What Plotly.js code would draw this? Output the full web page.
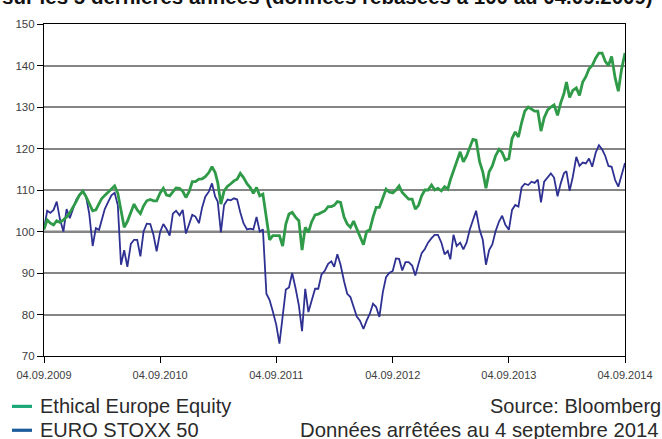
<!DOCTYPE html>
<html>
<head>
<meta charset="utf-8">
<script src="https://cdn.plot.ly/plotly-3.0.1.min.js"></script>
<style>
html,body{margin:0;padding:0;background:#fff;overflow:hidden;}
#chart{width:662px;height:439px;}
</style>
</head>
<body>
<div id="chart"></div>
<script>
// ---- Data (rebased to 100 on 04.09.2009) ----
const dates = [
"2009-09-04","2009-09-14","2009-09-24","2009-10-04","2009-10-14","2009-10-24","2009-11-04","2009-11-14","2009-11-24","2009-12-04","2009-12-14","2009-12-24",
"2010-01-04","2010-01-14","2010-01-24","2010-02-04","2010-02-14","2010-02-24","2010-03-04","2010-03-14","2010-03-24","2010-04-04","2010-04-14","2010-04-24",
"2010-05-04","2010-05-14","2010-05-24","2010-06-04","2010-06-14","2010-06-24","2010-07-04","2010-07-14","2010-07-24","2010-08-04","2010-08-14","2010-08-24",
"2010-09-04","2010-09-14","2010-09-24","2010-10-04","2010-10-14","2010-10-24","2010-11-04","2010-11-14","2010-11-24","2010-12-04","2010-12-14","2010-12-24",
"2011-01-04","2011-01-14","2011-01-24","2011-02-04","2011-02-14","2011-02-24","2011-03-04","2011-03-14","2011-03-24","2011-04-04","2011-04-14","2011-04-24",
"2011-05-04","2011-05-14","2011-05-24","2011-06-04","2011-06-14","2011-06-24","2011-07-04","2011-07-14","2011-07-24","2011-08-04","2011-08-14","2011-08-24",
"2011-09-04","2011-09-14","2011-09-24","2011-10-04","2011-10-14","2011-10-24","2011-11-04","2011-11-14","2011-11-24","2011-12-04","2011-12-14","2011-12-24",
"2012-01-04","2012-01-14","2012-01-24","2012-02-04","2012-02-14","2012-02-24","2012-03-04","2012-03-14","2012-03-24","2012-04-04","2012-04-14","2012-04-24",
"2012-05-04","2012-05-14","2012-05-24","2012-06-04","2012-06-14","2012-06-24","2012-07-04","2012-07-14","2012-07-24","2012-08-04","2012-08-14","2012-08-24",
"2012-09-04","2012-09-14","2012-09-24","2012-10-04","2012-10-14","2012-10-24","2012-11-04","2012-11-14","2012-11-24","2012-12-04","2012-12-14","2012-12-24",
"2013-01-04","2013-01-14","2013-01-24","2013-02-04","2013-02-14","2013-02-24","2013-03-04","2013-03-14","2013-03-24","2013-04-04","2013-04-14","2013-04-24",
"2013-05-04","2013-05-14","2013-05-24","2013-06-04","2013-06-14","2013-06-24","2013-07-04","2013-07-14","2013-07-24","2013-08-04","2013-08-14","2013-08-24",
"2013-09-04","2013-09-14","2013-09-24","2013-10-04","2013-10-14","2013-10-24","2013-11-04","2013-11-14","2013-11-24","2013-12-04","2013-12-14","2013-12-24",
"2014-01-04","2014-01-14","2014-01-24","2014-02-04","2014-02-14","2014-02-24","2014-03-04","2014-03-14","2014-03-24","2014-04-04","2014-04-14","2014-04-24",
"2014-05-04","2014-05-14","2014-05-24","2014-06-04","2014-06-14","2014-06-24","2014-07-04","2014-07-14","2014-07-24","2014-08-04","2014-08-14","2014-08-24",
"2014-09-04"
];

const ethicalEurope = [
100.5,102.8,102, 101.6,102.6,102.2, 102.8,103.5,104.5, 105.7,107.2,108.7,
109.7,108.4,106.7, 105,105.2,106.8, 107.9,108.7,109.4, 110.2,111,109.2,
105.2,101,102.4, 104.7,106.6,105.2, 104.3,106.2,107.4, 107.7,107.4,107.4,
109.3,110.4,108.8, 108.6,109.5,110.5, 110.4,109.7,108.2, 109.6,112,112,
112.6,112.7,113.2, 114.2,115.6,114.2, 111.8,106.6,109.8, 110.9,111.5,112.2,
112.6,114,113, 111.5,110.6,109.2, 110.6,108.6,109, 103,98,99,
99,99,96.5, 101.8,104.2,104.6, 103.4,102.6,95.5, 101,99.8,102.3,
104,104.2,104.6, 105,106,106, 106.3,107.2,107, 103.5,101.8,101,
102.5,100.5,98.8, 96.8,100,100.4, 103.4,105.8,105.8, 108.2,110.2,109.5,
109.3,110,111, 109.4,108.6,107.8, 107.8,105.4,106.3, 108.6,110,110,
111.2,110,110.4, 109.8,110.8,110.2, 112.4,114.8,116.8, 119.2,116.8,118.2,
120,122.2,122, 116.8,114.4,110.4, 114.4,115.8,118.2, 119.8,119,117.2,
117.6,122.4,124, 122.8,126.2,129, 130,129.4,129, 129,124.2,127.4,
129.3,130,130.5, 128,131,133.2, 136,132.3,134, 134.6,132.8,136,
137.3,139.2,140, 141.8,143,143, 141,140,142.2, 137,133.8,139,
143
];

const euroStoxx50 = [
100.5,105,104.5, 105.2,107.2,103, 100,105.4,103.2, 105.7,107.6,108.8,
109.8,108.5,104.4, 96.5,100.8,100.4, 102.5,105.4,107, 108.7,109.3,106.3,
92,95.5,91.5, 97,98,98, 94,100,101.9, 101.8,99.2,95.2,
99.9,101.8,100.6, 99,104.3,105, 103.9,105.2,99.5, 101.5,104,103.6,
102,105.8,108.4, 109.6,111.6,108.4, 107.2,99.8,106.4, 107.7,107.5,108,
107.7,104.6,102, 100.5,100.7,100.5, 103.5,100,100.5, 85,83.5,80.8,
77.5,73,79.5, 86,86.5,90, 86.2,82.2,76, 86.2,80.6,83.4,
86.2,86.2,89.6, 90.6,92.2,92.8, 91.5,94.5,92, 88,85,84.2,
82,79.5,78.5, 76.5,78.5,80.2, 82.6,81.8,79.4, 85.4,89,90,
90.5,93.5,93.4, 90.6,92.6,92.6, 91.8,89.4,92.2, 94.8,95.8,97.3,
98.4,99.2,99.2, 97.3,94.5,95.3, 93.3,99.2,96.5, 97.3,95.7,97.3,
100.4,102.8,105, 100.4,98,92, 95.5,96.9,100, 102.4,103.8,101.6,
100.4,105.2,106.4, 106,110.6,111.5, 111.2,112,111.7, 112.5,107,112,
113.2,114,113, 108.5,111.6,114, 114.5,109.8,113.2, 118,115.8,116.6,
116.4,117.6,115.6, 119,120.8,119.8, 118.2,115.8,115.6, 112.4,110.8,113.8,
116.5
];

const seriesNames = ["Ethical Europe Equity", "EURO STOXX 50"];
const tickDates = ["2009-09-04","2010-09-04","2011-09-04","2012-09-04","2013-09-04","2014-09-04"];
const tickLabels = ["04.09.2009","04.09.2010","04.09.2011","04.09.2012","04.09.2013","04.09.2014"];
const yTicks = [70,80,90,100,110,120,130,140,150];
const titleText = "sur les 5 dernières années (données rebasées à 100 au 04.09.2009)";
const sourceText = "Source: Bloomberg";
const dateNote = "Données arrêtées au 4 septembre 2014";

// ---- Chart ----
const traces = [
  {x: dates, y: euroStoxx50, name: seriesNames[1], type: "scatter", mode: "lines",
   line: {color: "#2e3192", width: 1.8}},
  {x: dates, y: ethicalEurope, name: seriesNames[0], type: "scatter", mode: "lines",
   line: {color: "#2f9a48", width: 2.8}}
];

const legFont = {family: "Liberation Sans, Arial, sans-serif", size: 20, color: "#2a2a2a"};
const noteFont = {family: "Liberation Sans, Arial, sans-serif", size: 20.3, color: "#2a2a2a"};

const layout = {
  width: 662, height: 439,
  margin: {l: 44, r: 37, t: 23.5, b: 82.5, pad: 0},
  paper_bgcolor: "#fff", plot_bgcolor: "#fff",
  showlegend: false,
  xaxis: {
    type: "date",
    range: ["2009-09-04", "2014-09-04"],
    tickvals: tickDates, ticktext: tickLabels,
    ticks: "outside", ticklen: 6, tickcolor: "#000", tickwidth: 1,
    ticklabelstandoff: 3,
    showgrid: false, zeroline: false,
    showline: true, linecolor: "#000", linewidth: 1.2, mirror: true,
    tickfont: {family: "Liberation Sans, Arial, sans-serif", size: 11, color: "#404040"}
  },
  yaxis: {
    range: [70, 150],
    tickvals: yTicks,
    ticks: "outside", ticklen: 6, tickcolor: "#000", tickwidth: 1,
    showgrid: true, gridcolor: "#858585", gridwidth: 1.6,
    zeroline: false,
    showline: true, linecolor: "#000", linewidth: 1.2, mirror: true,
    tickfont: {family: "Liberation Sans, Arial, sans-serif", size: 11.5, color: "#404040"}
  },
  shapes: [
    {type: "line", xref: "paper", yref: "y", x0: 0, x1: 1, y0: 100, y1: 100, layer: "below", line: {color: "#111", width: 1.3}},
    {type: "line", xref: "paper", yref: "y", x0: 0, x1: 1, y0: 110, y1: 110, layer: "below", line: {color: "#111", width: 1.3}},
    {type: "line", xref: "paper", yref: "paper", x0: -0.0551, x1: -0.0207, y0: -0.1517, y1: -0.1517, line: {color: "#1ba678", width: 3.2}},
    {type: "line", xref: "paper", yref: "paper", x0: -0.0551, x1: -0.0207, y0: -0.2237, y1: -0.2237, line: {color: "#1d5c9b", width: 3.2}}
  ],
  annotations: [
    {text: "<b>" + titleText + "</b>", xref: "paper", yref: "paper", x: -0.0757, y: 1.0841,
     xanchor: "left", yanchor: "middle", showarrow: false,
     font: {family: "Liberation Sans, Arial, sans-serif", size: 20.5, color: "#111"}},
    {text: seriesNames[0], xref: "paper", yref: "paper", x: -0.0103, y: -0.1517,
     xanchor: "left", yanchor: "middle", showarrow: false, font: legFont},
    {text: seriesNames[1], xref: "paper", yref: "paper", x: -0.0103, y: -0.2237,
     xanchor: "left", yanchor: "middle", showarrow: false, font: legFont},
    {text: sourceText, xref: "paper", yref: "paper", x: 1.0654, y: -0.1517,
     xanchor: "right", yanchor: "middle", showarrow: false, font: legFont},
    {text: dateNote, xref: "paper", yref: "paper", x: 1.062, y: -0.2237,
     xanchor: "right", yanchor: "middle", showarrow: false, font: noteFont}
  ]
};

Plotly.newPlot("chart", traces, layout, {displayModeBar: false, responsive: false});
</script>
</body>
</html>
